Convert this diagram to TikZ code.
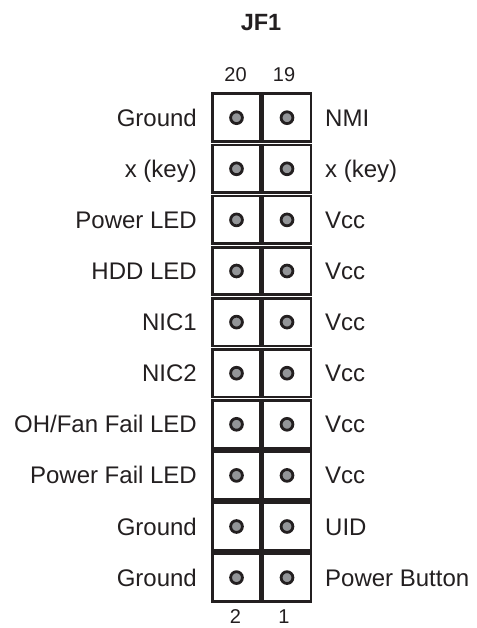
\documentclass[tikz,border=0pt]{standalone}
\usepackage{fontspec}
\setmainfont{Liberation Sans}
\definecolor{ink}{HTML}{231F20}
\definecolor{pingray}{HTML}{939598}
\begin{document}
\begin{tikzpicture}[x=1pt,y=-1pt,
  cellbox/.style={draw=ink,line width=2.8pt,minimum width=48pt,minimum height=47.6pt,inner sep=0pt},
  pin/.style={circle,draw=ink,fill=pingray,line width=2.8pt,minimum size=11.8pt,inner sep=0pt},
  lbl/.style={font=\fontsize{24}{26}\selectfont,text=ink,inner sep=0pt},
  num/.style={font=\fontsize{20}{22}\selectfont,text=ink,inner sep=0pt},
  ttl/.style={font=\fontsize{23.5}{26}\selectfont\bfseries,text=ink,inner sep=0pt}]
\useasboundingbox (0,0) rectangle (476,628);
\node[ttl,anchor=base] (title) at (261,31) {JF1};
\node[num,anchor=base] (n20) at (235.5,82) {20};
\node[num,anchor=base] (n19) at (284,82) {19};
\foreach \i/\l/\r in {0/Ground/NMI,1/x (key)/x (key),2/Power LED/Vcc,3/HDD LED/Vcc,4/NIC1/Vcc,5/NIC2/Vcc,6/OH\slash Fan Fail LED/Vcc,7/Power Fail LED/Vcc,8/Ground/UID,9/Ground/Power Button}{
  \pgfmathsetmacro{\yy}{117.7+51.1*\i}
  \node[cellbox] (cl\i) at (236.5,\yy) {};
  \node[cellbox] (cr\i) at (287,\yy) {};
  \node[pin] (pl\i) at (cl\i.center) {};
  \node[pin] (pr\i) at (cr\i.center) {};
  \node[lbl,anchor=base east] (L\i) at (197,\yy+8.5) {\l};
  \node[lbl,anchor=base west] (R\i) at (325,\yy+8.5) {\r};
}
\node[num,anchor=base] (n2) at (235.5,623.5) {2};
\node[num,anchor=base] (n1) at (284,623.5) {1};
\end{tikzpicture}
\end{document}
